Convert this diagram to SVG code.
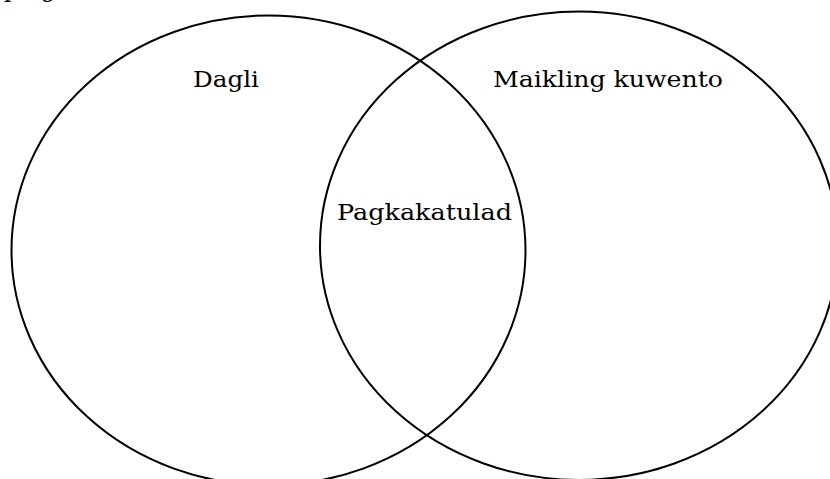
<svg xmlns="http://www.w3.org/2000/svg" width="830" height="479" viewBox="0 0 830 479">
<style>
.c{fill:none;stroke:#000;stroke-width:2}
.t{font-family:"DejaVu Serif","Liberation Serif",serif;font-size:23px;fill:#000}
</style>
<rect width="830" height="479" fill="#fff"/>
<g id="frag">
<text class="t" x="4" y="-3">p</text>
<text class="t" x="41" y="-3">g</text>
</g>
<g id="left">
<ellipse class="c" cx="268.5" cy="250.3" rx="257" ry="234.8"/>
<text class="t" x="193" y="87" textLength="66" lengthAdjust="spacingAndGlyphs">Dagli</text>
</g>
<g id="right">
<ellipse class="c" cx="579" cy="245.7" rx="259" ry="234.2"/>
<text class="t" x="493" y="87" textLength="230" lengthAdjust="spacingAndGlyphs">Maikling kuwento</text>
</g>
<g id="overlap">
<text class="t" x="337" y="220" textLength="175" lengthAdjust="spacingAndGlyphs">Pagkakatulad</text>
</g>
<g id="connectors"></g>
</svg>
